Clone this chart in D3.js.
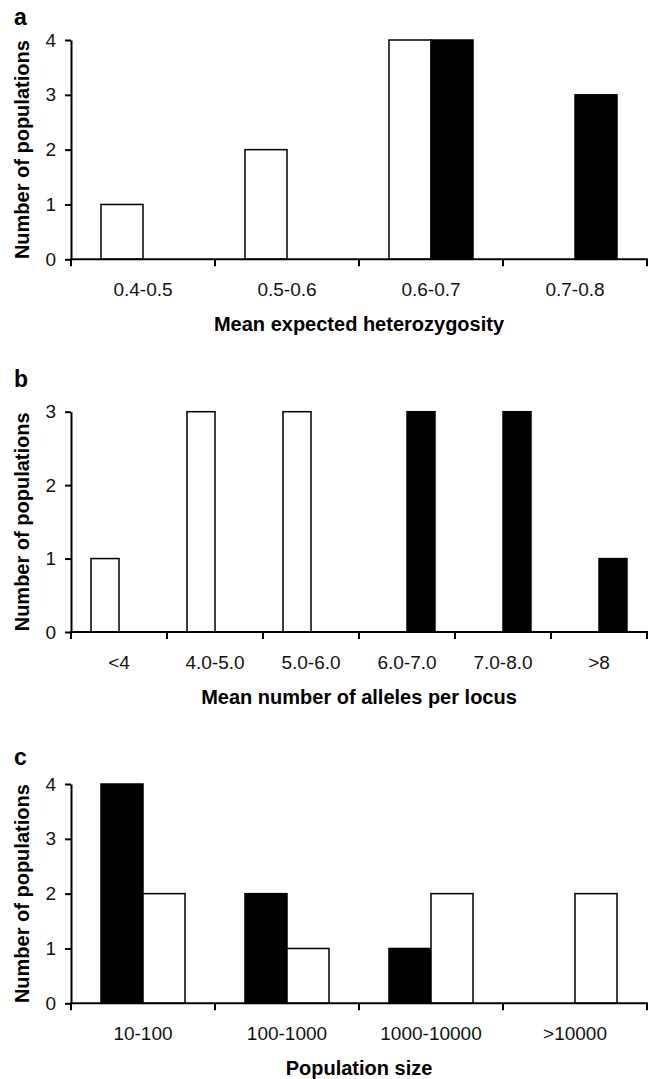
<!DOCTYPE html>
<html>
<head>
<meta charset="utf-8">
<script src="https://cdn.jsdelivr.net/npm/d3@7"></script>
<style>
  html, body { margin: 0; padding: 0; background: #fff; }
  svg { display: block; }
</style>
</head>
<body>
<div id="chart"></div>
<script>
// ---------- data ----------
const hetCategories = ["0.4-0.5", "0.5-0.6", "0.6-0.7", "0.7-0.8"];
const hetWhite = [1, 2, 4, 0];
const hetBlack = [0, 0, 4, 3];
const hetTicks = [0, 1, 2, 3, 4];

const alleleCategories = ["<4", "4.0-5.0", "5.0-6.0", "6.0-7.0", "7.0-8.0", ">8"];
const alleleWhite = [1, 3, 3, 0, 0, 0];
const alleleBlack = [0, 0, 0, 3, 3, 1];
const alleleTicks = [0, 1, 2, 3];

const sizeCategories = ["10-100", "100-1000", "1000-10000", ">10000"];
const sizeBlack = [4, 2, 1, 0];
const sizeWhite = [2, 1, 2, 2];
const sizeTicks = [0, 1, 2, 3, 4];

const panelLetters = ["a", "b", "c"];
const yTitle = "Number of populations";
const xTitles = ["Mean expected heterozygosity", "Mean number of alleles per locus", "Population size"];

// ---------- layout ----------
const W = 652, H = 1079;
const svg = d3.select("#chart").append("svg").attr("width", W).attr("height", H);

const panels = [
  { letter: panelLetters[0], cats: hetCategories, series: [{ key: "white", vals: hetWhite }, { key: "black", vals: hetBlack }], ticks: hetTicks, xTitle: xTitles[0], top: 40, bottom: 259.3, letterY: 25 },
  { letter: panelLetters[1], cats: alleleCategories, series: [{ key: "white", vals: alleleWhite }, { key: "black", vals: alleleBlack }], ticks: alleleTicks, xTitle: xTitles[1], top: 411.7, bottom: 632, letterY: 387 },
  { letter: panelLetters[2], cats: sizeCategories, series: [{ key: "black", vals: sizeBlack }, { key: "white", vals: sizeWhite }], ticks: sizeTicks, xTitle: xTitles[2], top: 784, bottom: 1003.3, letterY: 765 }
];

const left = 71, right = 647;
const fills = { white: "#ffffff", black: "#000000" };

panels.forEach(p => {
  const g = svg.append("g");
  const x = d3.scaleBand().domain(p.cats).range([left, right]).padding(0);
  const step = x.bandwidth();
  const x1 = d3.scaleBand().domain(p.series.map(s => s.key)).range([step * 0.2083, step * 0.7917]).padding(0);
  const y = d3.scaleLinear().domain([0, d3.max(p.ticks)]).range([p.bottom, p.top]);

  // bars
  p.series.forEach(s => {
    g.append("g").selectAll("rect")
      .data(p.cats.map((c, i) => ({ c, v: s.vals[i] })).filter(d => d.v > 0))
      .join("rect")
      .attr("x", d => x(d.c) + x1(s.key))
      .attr("y", d => y(d.v))
      .attr("width", x1.bandwidth())
      .attr("height", d => y(0) - y(d.v))
      .attr("fill", fills[s.key])
      .attr("stroke", "#000")
      .attr("stroke-width", 1.5);
  });

  // y axis
  const yAxis = g.append("g")
    .attr("transform", `translate(${left},0)`)
    .call(d3.axisLeft(y).tickValues(p.ticks).tickFormat(d3.format("d")).tickSize(6).tickSizeOuter(0).tickPadding(9));
  yAxis.select(".domain").attr("stroke-width", 2);
  yAxis.selectAll(".tick line").attr("stroke-width", 2);
  yAxis.selectAll("text").attr("font-family", "Arial, 'Liberation Sans', sans-serif").attr("font-size", 19).attr("fill", "#111");

  // x axis baseline with boundary ticks
  const boundaries = p.cats.map(c => x(c)).concat([x(p.cats[p.cats.length - 1]) + step]);
  g.append("line")
    .attr("x1", left - 1).attr("x2", right + 1)
    .attr("y1", y(0)).attr("y2", y(0))
    .attr("stroke", "#000").attr("stroke-width", 2);
  g.append("g").selectAll("line")
    .data(boundaries)
    .join("line")
    .attr("x1", d => d).attr("x2", d => d)
    .attr("y1", y(0)).attr("y2", y(0) + 7)
    .attr("stroke", "#000").attr("stroke-width", 2);

  // x tick labels
  g.append("g").selectAll("text")
    .data(p.cats)
    .join("text")
    .attr("x", d => x(d) + step / 2)
    .attr("y", y(0) + 37)
    .attr("text-anchor", "middle")
    .attr("font-family", "Arial, 'Liberation Sans', sans-serif")
    .attr("font-size", 19)
    .attr("fill", "#111")
    .text(d => d);

  // x title
  g.append("text")
    .attr("x", (left + right) / 2)
    .attr("y", y(0) + 72)
    .attr("text-anchor", "middle")
    .attr("font-family", "Arial, 'Liberation Sans', sans-serif")
    .attr("font-weight", "bold")
    .attr("font-size", 20)
    .text(p.xTitle);

  // y title
  g.append("text")
    .attr("transform", `translate(29,${(p.top + p.bottom) / 2}) rotate(-90)`)
    .attr("text-anchor", "middle")
    .attr("font-family", "Arial, 'Liberation Sans', sans-serif")
    .attr("font-weight", "bold")
    .attr("font-size", 20)
    .text(yTitle);

  // panel letter
  g.append("text")
    .attr("x", 14)
    .attr("y", p.letterY)
    .attr("font-family", "Arial, 'Liberation Sans', sans-serif")
    .attr("font-weight", "bold")
    .attr("font-size", 23)
    .text(p.letter);
});
</script>
</body>
</html>
